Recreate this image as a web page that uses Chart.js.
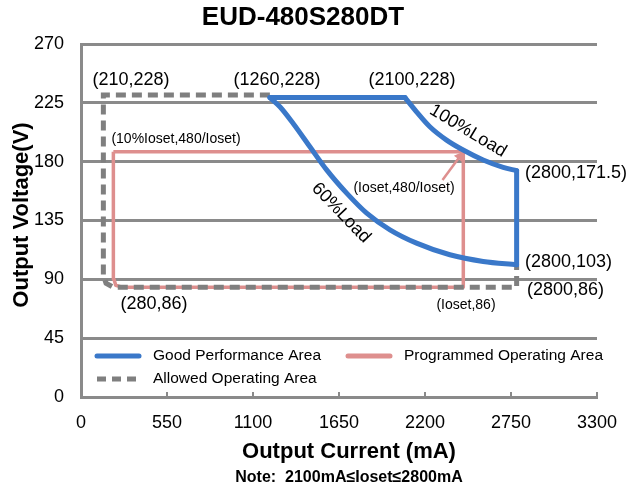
<!DOCTYPE html>
<html>
<head>
<meta charset="utf-8">
<script src="https://cdn.jsdelivr.net/npm/chart.js@4.4.1/dist/chart.umd.min.js"></script>
<style>
  body { margin: 0; background: #fff; }
  canvas { display: block; }
</style>
</head>
<body>
<canvas id="chart" width="640" height="491"></canvas>
<script>
const xTicks = [0, 550, 1100, 1650, 2200, 2750, 3300];
const yTicks = [0, 45, 90, 135, 180, 225, 270];

// Good Performance Area (blue), in four pieces
const goodTopI = [1208, 2072];
const goodTopV = [229, 229];
const good100I = [2072, 2146, 2231, 2338, 2444, 2572, 2700, 2786];
const good100V = [229, 218.1, 206.7, 196.5, 188.9, 181.3, 175.7, 173.1];
const goodSideI = [2786, 2786];
const goodSideV = [173.1, 101.2];
const good60I = [1208, 1272, 1357, 1464, 1571, 1699, 1827, 1976, 2146, 2359, 2572, 2786];
const good60V = [229, 222, 209.2, 191.4, 173.7, 155.9, 140.6, 127.9, 117.7, 108.8, 103.7, 101.2];

// Programmed Operating Area (pink)
const progI = [207, 2445, 2445, 262, 222, 211, 207, 207];
const progV = [187.6, 187.6, 84, 84, 85.5, 90, 100, 187.6];

// Allowed Operating Area (grey dashed)
const allowI = [1208, 143, 143, 160, 205, 2786, 2786];
const allowV = [231, 231, 93, 87, 84, 84, 101];

// pointer from (Ioset,480/Ioset) label
const arrowI = [2312, 2423];
const arrowV = [166, 184];

const BLUE = '#3a78c9';
const PINK = '#de8f8e';
const GREY = '#7f7f7f';
const GRID = '#8a8a8a';
const FONT = '"Liberation Sans", Arial, sans-serif';

const pts = (xs, ys) => xs.map((x, i) => ({ x: x, y: ys[i] }));

const notes = [
  { t: '(210,228)', x: 131, y: 80, size: 18 },
  { t: '(1260,228)', x: 277, y: 80, size: 18 },
  { t: '(2100,228)', x: 412, y: 80, size: 18 },
  { t: '(10%Ioset,480/Ioset)', x: 176, y: 139, size: 14 },
  { t: '(Ioset,480/Ioset)', x: 404, y: 188, size: 14 },
  { t: '(2800,171.5)', x: 525, y: 173, size: 18, align: 'left' },
  { t: '(2800,103)', x: 525, y: 262, size: 18, align: 'left' },
  { t: '(2800,86)', x: 527, y: 290, size: 18, align: 'left' },
  { t: '(280,86)', x: 154, y: 304, size: 18 },
  { t: '(Ioset,86)', x: 466, y: 305, size: 14 },
  { t: '100%Load', x: 468, y: 131, size: 18, rot: 31 },
  { t: '60%Load', x: 341, y: 213, size: 18, rot: 46 }
];

const legendItems = [
  { label: 'Good Performance Area', color: BLUE, dash: [], x: 97, y: 356, w: 5 },
  { label: 'Programmed Operating Area', color: PINK, dash: [], x: 348, y: 356, w: 5 },
  { label: 'Allowed Operating Area', color: GREY, dash: [9, 6], x: 97, y: 379, w: 5 }
];

const textPlugin = {
  id: 'texts',
  afterDraw(chart) {
    const ctx = chart.ctx;
    const xs = chart.scales.x;
    const ys = chart.scales.y;
    ctx.save();

    // inward tick marks on the x axis
    ctx.strokeStyle = GRID;
    ctx.lineWidth = 2;
    xTicks.forEach(v => {
      const px = xs.getPixelForValue(v);
      ctx.beginPath();
      ctx.moveTo(px, ys.getPixelForValue(0));
      ctx.lineTo(px, ys.getPixelForValue(0) - 5);
      ctx.stroke();
    });

    ctx.fillStyle = '#000';
    ctx.textBaseline = 'middle';
    notes.forEach(n => {
      ctx.save();
      ctx.font = `${n.size}px ${FONT}`;
      ctx.textAlign = n.align || 'center';
      ctx.translate(n.x, n.y);
      if (n.rot) ctx.rotate(n.rot * Math.PI / 180);
      ctx.fillText(n.t, 0, 0);
      ctx.restore();
    });

    // legend inside plot
    legendItems.forEach(it => {
      ctx.beginPath();
      ctx.strokeStyle = it.color;
      ctx.lineWidth = it.w;
      ctx.lineCap = it.dash.length ? 'butt' : 'round';
      ctx.setLineDash(it.dash);
      ctx.moveTo(it.x, it.y);
      ctx.lineTo(it.x + 42, it.y);
      ctx.stroke();
      ctx.setLineDash([]);
      ctx.font = `15.5px ${FONT}`;
      ctx.textAlign = 'left';
      ctx.fillText(it.label, it.x + 56, it.y);
    });

    // titles
    ctx.textAlign = 'center';
    ctx.font = `bold 26px ${FONT}`;
    ctx.fillText('EUD-480S280DT', 303, 18);
    ctx.font = `bold 22px ${FONT}`;
    ctx.fillText('Output Current (mA)', 349, 452);
    ctx.font = `bold 16px ${FONT}`;
    ctx.fillText('Note:  2100mA\u2264Ioset\u22642800mA', 349, 478);
    ctx.save();
    ctx.translate(22, 215);
    ctx.rotate(-Math.PI / 2);
    ctx.font = `bold 22px ${FONT}`;
    ctx.fillText('Output Voltage(V)', 0, 0);
    ctx.restore();

    ctx.restore();
  }
};

const blueLine = (xs, ys, smooth) => ({
  data: pts(xs, ys), showLine: true, borderColor: BLUE, borderWidth: 5, pointRadius: 0,
  borderCapStyle: 'round', borderJoinStyle: 'round',
  cubicInterpolationMode: smooth ? 'monotone' : 'default', tension: 0
});

new Chart(document.getElementById('chart'), {
  type: 'scatter',
  data: {
    datasets: [
      Object.assign({ label: 'Good Performance Area' }, blueLine(goodTopI, goodTopV, false)),
      Object.assign({ label: '100%Load' }, blueLine(good100I, good100V, true)),
      Object.assign({ label: 'side' }, blueLine(goodSideI, goodSideV, false)),
      Object.assign({ label: '60%Load' }, blueLine(good60I, good60V, true)),
      { label: 'pointer', data: pts(arrowI, arrowV), showLine: true, borderColor: PINK, borderWidth: 2.5, pointRadius: [0, 6], pointStyle: 'triangle', pointRotation: [0, 36], pointBackgroundColor: PINK, pointBorderColor: PINK, pointBorderWidth: 0 },
      { label: 'Allowed Operating Area', data: pts(allowI, allowV), showLine: true, borderColor: GREY, borderWidth: 5, borderDash: [10, 6], pointRadius: 0, tension: 0 },
      { label: 'Programmed Operating Area', data: pts(progI, progV), showLine: true, borderColor: PINK, borderWidth: 3.5, pointRadius: 0, borderJoinStyle: 'round', tension: 0 }
    ]
  },
  options: {
    responsive: false,
    animation: false,
    devicePixelRatio: 1,
    layout: { padding: { left: 0, top: 44, right: 43, bottom: 0 } },
    plugins: { legend: { display: false }, tooltip: { enabled: false } },
    scales: {
      x: {
        type: 'linear', min: 0, max: 3300,
        afterBuildTicks: s => { s.ticks = xTicks.map(v => ({ value: v })); },
        afterFit: s => { s.height = 94; },
        grid: { display: false },
        border: { display: true, color: GRID, width: 3 },
        ticks: { color: '#000', font: { family: FONT, size: 18 }, padding: 7, maxRotation: 0, callback: v => String(v) }
      },
      y: {
        type: 'linear', min: 0, max: 270,
        afterBuildTicks: s => { s.ticks = yTicks.map(v => ({ value: v })); },
        afterFit: s => { s.width = 81; },
        grid: { color: GRID, lineWidth: 3, drawTicks: false },
        border: { display: true, color: GRID, width: 3 },
        ticks: { color: '#000', font: { family: FONT, size: 18 }, padding: 17, callback: v => String(v) }
      }
    }
  },
  plugins: [textPlugin]
});
</script>
</body>
</html>
